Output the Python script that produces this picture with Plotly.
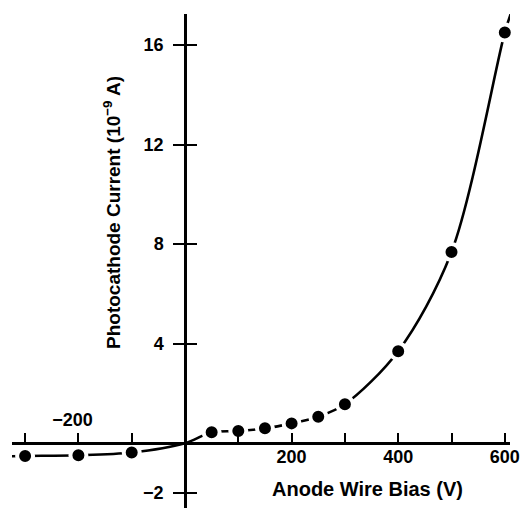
import plotly.graph_objects as go

# Data
bias_v = [-300, -200, -100, 50, 100, 150, 200, 250, 300, 400, 500, 600]
current_na = [-0.51, -0.48, -0.37, 0.44, 0.49, 0.60, 0.80, 1.07, 1.57, 3.70, 7.68, 16.5]

# Smooth fitted curve
curve_x = [-345, -300, -200, -100, 0, 50, 100, 150, 200, 250, 300, 400, 500, 600, 612]
curve_y = [-0.53, -0.51, -0.48, -0.37, 0.0, 0.44, 0.49, 0.60, 0.80, 1.07, 1.57, 3.70, 7.68, 16.5, 17.3]

x_label_ticks = [200, 400, 600]
x_label_text = ["200", "400", "600"]
x_plain_ticks = [-300, -200, -100, 0, 100, 300, 500]
x_top_ticks = [-200]
x_top_labels = ["\u2212200"]
y_ticks = [-2, 4, 8, 12, 16]
y_labels = ["\u22122", "4", "8", "12", "16"]

W, H = 525, 508
x0_px, x_scale = 185.0, 0.533      # px of x=0, px per volt
y0_px, y_scale = 443.3, 24.9       # px of y=0, px per unit
xd = [12 / W, 510 / W]
yd = [0, 1 - 14 / H]
x_range = [(12 - x0_px) / x_scale, (510 - x0_px) / x_scale]
y_range = [(y0_px - H) / y_scale, (y0_px - 14) / y_scale]
xpos = (H - y0_px) / H
ypos = x0_px / W

FONT = "Liberation Sans"
tf = dict(family=FONT, size=18, color="black", weight="bold")

fig = go.Figure()
fig.add_trace(go.Scatter(x=curve_x, y=curve_y, mode="lines",
                         line=dict(color="black", width=2.6, shape="spline", smoothing=0.9),
                         hoverinfo="skip", showlegend=False))
fig.add_trace(go.Scatter(x=bias_v, y=current_na, mode="markers",
                         marker=dict(color="black", size=16, line=dict(color="white", width=4)),
                         showlegend=False, cliponaxis=False))
fig.add_trace(go.Scatter(x=[], y=[], xaxis="x2", yaxis="y2", showlegend=False))

fig.update_layout(
    width=W, height=H,
    margin=dict(l=0, r=0, t=0, b=0, autoexpand=False),
    showlegend=False,
    paper_bgcolor="white", plot_bgcolor="white",
    xaxis=dict(domain=xd, range=x_range, anchor="free", position=xpos, automargin=False,
               showgrid=False, zeroline=False, showline=True, linecolor="black", linewidth=2.5,
               ticks="inside", ticklen=10, tickwidth=2, tickcolor="black",
               tickvals=x_label_ticks, ticktext=x_label_text, tickfont=tf, ticklabelstandoff=-4,
               minor=dict(tickvals=x_plain_ticks, ticks="inside", ticklen=10, tickwidth=2,
                          tickcolor="black", showgrid=False)),
    xaxis2=dict(domain=xd, range=x_range, anchor="free", position=xpos, overlaying="x", side="top",
                automargin=False,
                showgrid=False, zeroline=False, showline=False, ticks="",
                tickvals=x_top_ticks, ticktext=x_top_labels, tickfont=tf,
                ticklabelstandoff=14, ticklabelshift=-6),
    yaxis=dict(domain=yd, range=y_range, anchor="free", position=ypos, automargin=False,
               showgrid=False, zeroline=False, showline=True, linecolor="black", linewidth=2.5,
               ticks="outside", ticklen=11, tickwidth=2, tickcolor="black",
               tickvals=y_ticks, ticktext=y_labels, tickfont=tf, ticklabelstandoff=6),
    yaxis2=dict(domain=yd, range=y_range, anchor="free", position=ypos, overlaying="y", side="left",
                automargin=False,
                showgrid=False, zeroline=False, showline=False,
                ticks="inside", ticklen=11, tickwidth=2, tickcolor="black",
                tickvals=y_ticks, showticklabels=False),
    annotations=[
        dict(text="Anode Wire Bias (V)", x=367 / W, y=(H - 489) / H, xref="paper", yref="paper",
             showarrow=False, xanchor="center", yanchor="middle",
             font=dict(family=FONT, size=20, color="black", weight="bold")),
        dict(text="Photocathode Current (10<sup>\u22129</sup> A)", x=112 / W, y=(H - 213) / H,
             xref="paper", yref="paper", textangle=-90, showarrow=False,
             xanchor="center", yanchor="middle",
             font=dict(family=FONT, size=19, color="black", weight="bold")),
    ],
)

fig.write_html("out.html", config={"displayModeBar": False},
               post_script="document.body.style.margin='0';document.body.style.padding='0';")
